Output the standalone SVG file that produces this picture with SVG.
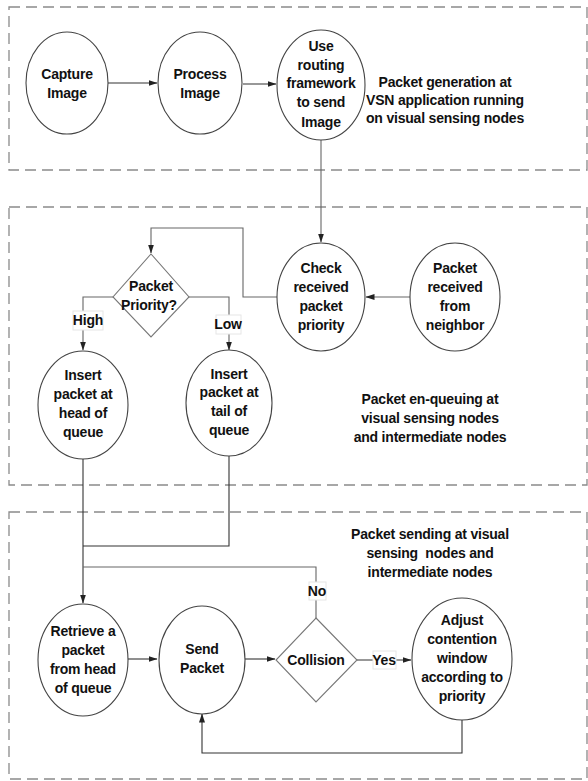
<svg xmlns="http://www.w3.org/2000/svg" width="588" height="781" viewBox="0 0 588 781">
<defs>
<style>
.bg{fill:#fff}
.sec{fill:none;stroke:#8a8a8a;stroke-width:1.3;stroke-dasharray:11 6}
.n{fill:#fff;stroke:#444;stroke-width:1.1}
.d{fill:#fff;stroke:#777;stroke-width:1.1}
.c{fill:none;stroke:#333;stroke-width:1.1}
.cg{fill:none;stroke:#666;stroke-width:1.1}
text{font-family:"Liberation Sans",Arial,sans-serif;font-weight:bold;font-size:14px;letter-spacing:-0.2px;fill:#111;text-anchor:middle}
.lb{fill:#fff;stroke:#e6e6e6;stroke-width:1}
</style>
<marker id="a" markerWidth="9" markerHeight="7" refX="8.5" refY="3.5" orient="auto" markerUnits="userSpaceOnUse">
<path d="M0,0.5 L9,3.5 L0,6.5 Z" fill="#222"/>
</marker>
</defs>
<rect class="bg" x="0" y="0" width="588" height="781"/>

<g id="sections">
<rect class="sec" x="9" y="7" width="578" height="163"/>
<rect class="sec" x="9" y="207" width="578" height="278"/>
<rect class="sec" x="9" y="512" width="578" height="267"/>
<text x="445" y="87">Packet generation at</text>
<text x="445" y="105">VSN application running</text>
<text x="445" y="123">on visual sensing nodes</text>
<text x="430" y="404">Packet en-queuing at</text>
<text x="430" y="423">visual sensing nodes</text>
<text x="430" y="442">and intermediate nodes</text>
<text x="430" y="539">Packet sending at visual</text>
<text x="430" y="558" xml:space="preserve">sensing  nodes and</text>
<text x="430" y="577">intermediate nodes</text>
</g>

<g id="connectors">
<line class="c" x1="108" y1="83" x2="157" y2="83" marker-end="url(#a)"/>
<line class="c" x1="243" y1="84" x2="276" y2="84" marker-end="url(#a)"/>
<line class="cg" x1="321" y1="140" x2="321" y2="242" marker-end="url(#a)"/>
<line class="cg" x1="410" y1="297" x2="366" y2="297" marker-end="url(#a)"/>
<polyline class="cg" points="277,297 243,297 243,228 151,228 151,253" marker-end="url(#a)"/>
<polyline class="cg" points="113,297 83,297 83,350" marker-end="url(#a)"/>
<polyline class="cg" points="188,297 229,297 229,350" marker-end="url(#a)"/>
<line class="c" x1="83" y1="459" x2="83" y2="603" marker-end="url(#a)"/>
<polyline class="c" points="229,456 229,546 83,546"/>
<polyline class="cg" points="316,618 316,567 83,567"/>
<line class="c" x1="128" y1="659" x2="157" y2="659" marker-end="url(#a)"/>
<line class="c" x1="245" y1="659" x2="275" y2="659" marker-end="url(#a)"/>
<line class="c" x1="357" y1="660" x2="411" y2="660" marker-end="url(#a)"/>
<polyline class="c" points="462,720 462,753 202,753 202,714" marker-end="url(#a)"/>
<rect class="lb" x="73" y="311" width="30" height="19"/>
<text x="88" y="325">High</text>
<rect class="lb" x="216" y="315" width="25" height="19"/>
<text x="228" y="329">Low</text>
<rect class="lb" x="309" y="582" width="17" height="18"/>
<text x="317" y="596">No</text>
<rect class="lb" x="373" y="651" width="23" height="18"/>
<text x="384" y="665">Yes</text>
</g>

<g id="capture">
<ellipse class="n" cx="67" cy="83" rx="41" ry="51"/>
<text x="67" y="79">Capture</text>
<text x="67" y="98">Image</text>
</g>
<g id="process">
<ellipse class="n" cx="200" cy="83" rx="42" ry="51"/>
<text x="200" y="79">Process</text>
<text x="200" y="98">Image</text>
</g>
<g id="routing">
<ellipse class="n" cx="321" cy="85" rx="44" ry="55"/>
<text x="321" y="51">Use</text>
<text x="321" y="70">routing</text>
<text x="321" y="88">framework</text>
<text x="321" y="107">to send</text>
<text x="321" y="127">Image</text>
</g>
<g id="check">
<ellipse class="n" cx="321" cy="297" rx="44" ry="54"/>
<text x="321" y="273">Check</text>
<text x="321" y="292">received</text>
<text x="321" y="311">packet</text>
<text x="321" y="330">priority</text>
</g>
<g id="received">
<ellipse class="n" cx="455" cy="297" rx="45" ry="54"/>
<text x="455" y="273">Packet</text>
<text x="455" y="292">received</text>
<text x="455" y="311">from</text>
<text x="455" y="330">neighbor</text>
</g>
<g id="priority">
<polygon class="d" points="151,254 189,297 151,337 113,297"/>
<text x="151" y="291">Packet</text>
<text x="149" y="310">Priority?</text>
</g>
<g id="head">
<ellipse class="n" cx="83" cy="405" rx="45" ry="54"/>
<text x="83" y="380">Insert</text>
<text x="83" y="399">packet at</text>
<text x="83" y="418">head of</text>
<text x="83" y="437">queue</text>
</g>
<g id="tail">
<ellipse class="n" cx="229" cy="403" rx="43" ry="53"/>
<text x="229" y="379">Insert</text>
<text x="229" y="397">packet at</text>
<text x="229" y="416">tail of</text>
<text x="229" y="435">queue</text>
</g>
<g id="retrieve">
<ellipse class="n" cx="83" cy="660" rx="45" ry="56"/>
<text x="83" y="636">Retrieve a</text>
<text x="83" y="655">packet</text>
<text x="83" y="674">from head</text>
<text x="83" y="693">of queue</text>
</g>
<g id="send">
<ellipse class="n" cx="202" cy="660" rx="43" ry="54"/>
<text x="202" y="654">Send</text>
<text x="202" y="673">Packet</text>
</g>
<g id="collision">
<polygon class="d" points="316,618 357,660 316,702 276,660"/>
<text x="316" y="665">Collision</text>
</g>
<g id="adjust">
<ellipse class="n" cx="462" cy="659" rx="50" ry="61"/>
<text x="462" y="625">Adjust</text>
<text x="462" y="644">contention</text>
<text x="462" y="663">window</text>
<text x="462" y="682">according to</text>
<text x="462" y="701">priority</text>
</g>
</svg>
